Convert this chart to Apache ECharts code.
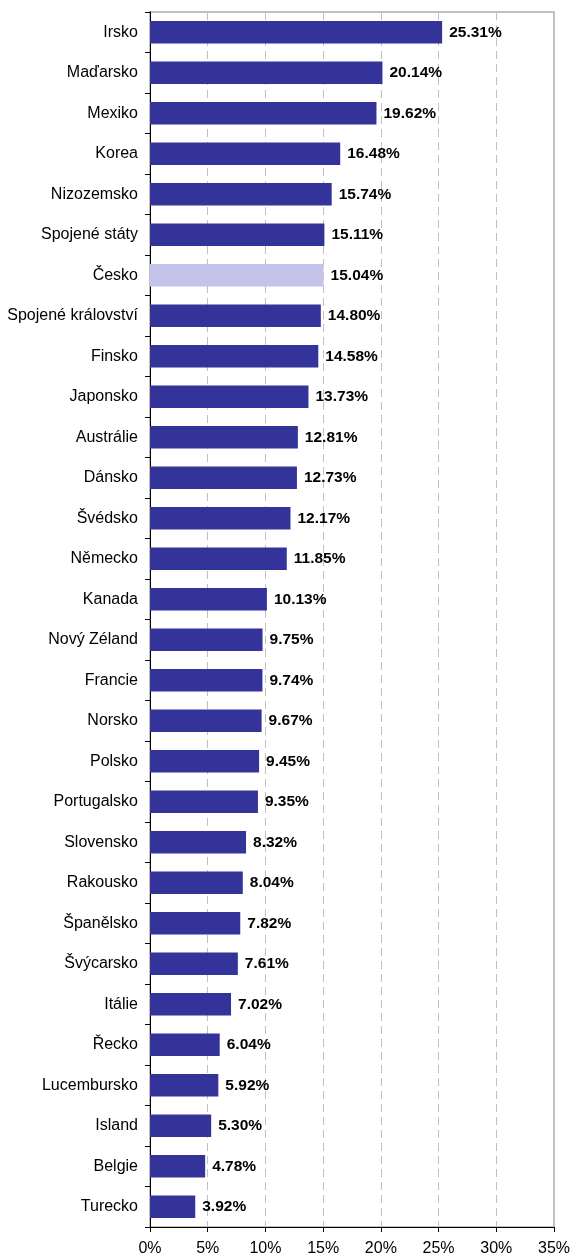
<!DOCTYPE html>
<html><head><meta charset="utf-8">
<script src="https://cdn.jsdelivr.net/npm/echarts@6/dist/echarts.min.js"></script>
<style>html,body{margin:0;padding:0;background:#fff}#c{width:573px;height:1257px}</style>
</head><body><div id="c"></div>
<script>
const categories = ["Irsko","Maďarsko","Mexiko","Korea","Nizozemsko","Spojené státy","Česko","Spojené království","Finsko","Japonsko","Austrálie","Dánsko","Švédsko","Německo","Kanada","Nový Zéland","Francie","Norsko","Polsko","Portugalsko","Slovensko","Rakousko","Španělsko","Švýcarsko","Itálie","Řecko","Lucembursko","Island","Belgie","Turecko"];
const values = [25.31,20.14,19.62,16.48,15.74,15.11,15.04,14.80,14.58,13.73,12.81,12.73,12.17,11.85,10.13,9.75,9.74,9.67,9.45,9.35,8.32,8.04,7.82,7.61,7.02,6.04,5.92,5.30,4.78,3.92];
const highlight = "Česko";

const chart = echarts.init(document.getElementById('c'));
const font = '"Liberation Sans", Arial, sans-serif';
chart.setOption({
  animation: false,
  grid: {left: 150, right: 16, top: 12, bottom: 28, show: true, borderColor: '#c0c0c0', borderWidth: 2, backgroundColor: 'transparent'},
  xAxis: {
    type: 'value', min: 0, max: 35, interval: 5,
    axisLine: {show: true, lineStyle: {color: '#000', width: 1}},
    axisTick: {show: true, length: 5, lineStyle: {color: '#000'}},
    axisLabel: {formatter: v => v + '%', color: '#000', fontFamily: font, fontSize: 16, margin: 14},
    splitLine: {show: true, lineStyle: {color: '#c0c0c0', type: [8, 5], width: 1}}
  },
  yAxis: {
    type: 'category', data: categories, inverse: true,
    axisLine: {show: true, lineStyle: {color: '#000', width: 1}},
    axisTick: {show: true, length: 5, lineStyle: {color: '#000'}},
    axisLabel: {color: '#000', fontFamily: font, fontSize: 16, margin: 12}
  },
  series: [{
    type: 'bar',
    data: values.map((v, i) => ({value: v, itemStyle: {color: categories[i] === highlight ? '#c4c4ea' : '#333399'}})),
    barCategoryGap: '44%',
    label: {show: true, position: 'right', distance: 7, formatter: p => p.value.toFixed(2) + '%', color: '#000', fontFamily: font, fontSize: 15.5, fontWeight: 'bold'}
  }]
});
</script></body></html>
